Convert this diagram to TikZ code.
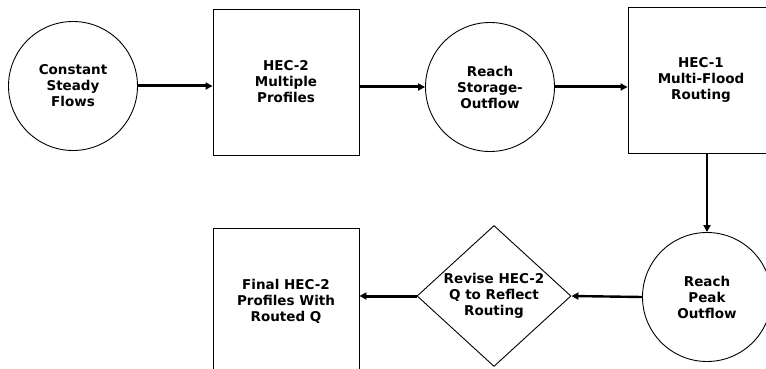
\documentclass[tikz,border=0pt]{standalone}
\usepackage{fontspec}
\newfontfamily\flowfont{DejaVu Sans}
\usetikzlibrary{arrows.meta,positioning,shapes.geometric}
\tikzset{
	stepcirc/.style={circle,draw,line width=0.9pt,inner sep=0,minimum size=129pt,align=center,font=\flowfont\bfseries\fontsize{13.5}{16}\selectfont},
	stepbox/.style={rectangle,draw,line width=0.9pt,inner sep=0,minimum width=146pt,minimum height=146pt,align=center,font=\flowfont\bfseries\fontsize{13.5}{16}\selectfont},
	decide/.style={diamond,draw,line width=0.9pt,inner sep=0,aspect=1.09,minimum width=154pt,minimum height=141pt,align=center,font=\flowfont\bfseries\fontsize{13.5}{16}\selectfont},
	flow/.style={-{Triangle[width=7pt,length=7pt]},line width=3pt,color=black}
}
\begin{document}
\begin{tikzpicture}[x=1pt,y=-1pt]
	\useasboundingbox (0,0) rectangle (766,369);
	%%%top row
	\node[stepcirc] (flows) at (73,86) {Constant\\Steady\\Flows};
	\node[stepbox] (multi) at (286,82) {HEC-2\\Multiple\\Profiles};
	\node[stepcirc] (storage) at (490,87) {Reach\\Storage-\\Outflow};
	\node[stepbox] (routing) at (701,80) {HEC-1\\Multi-Flood\\Routing};

	%%%bottom row
	\node[stepcirc] (peak) at (707,297) {Reach\\Peak\\Outflow};
	\node[decide] (revise) at (494,296) {Revise HEC-2\\Q to Reflect\\Routing};
	\node[stepbox] (final) at (286,301) {Final HEC-2\\Profiles With\\Routed Q};

	\draw[flow] (flows.east) -- (multi.west |- flows.east);
	\draw[flow] (multi.east |- storage.west) -- (storage.west);
	\draw[flow] (storage.east) -- (routing.west |- storage.east);
	\draw[flow,line width=2.4pt] (peak.north |- routing.south) -- (peak.north);
	\draw[flow,line width=2.4pt] (peak.west) -- (revise.east);
	\draw[flow] (revise.west) -- (final.east |- revise.west);
\end{tikzpicture}
\end{document}
